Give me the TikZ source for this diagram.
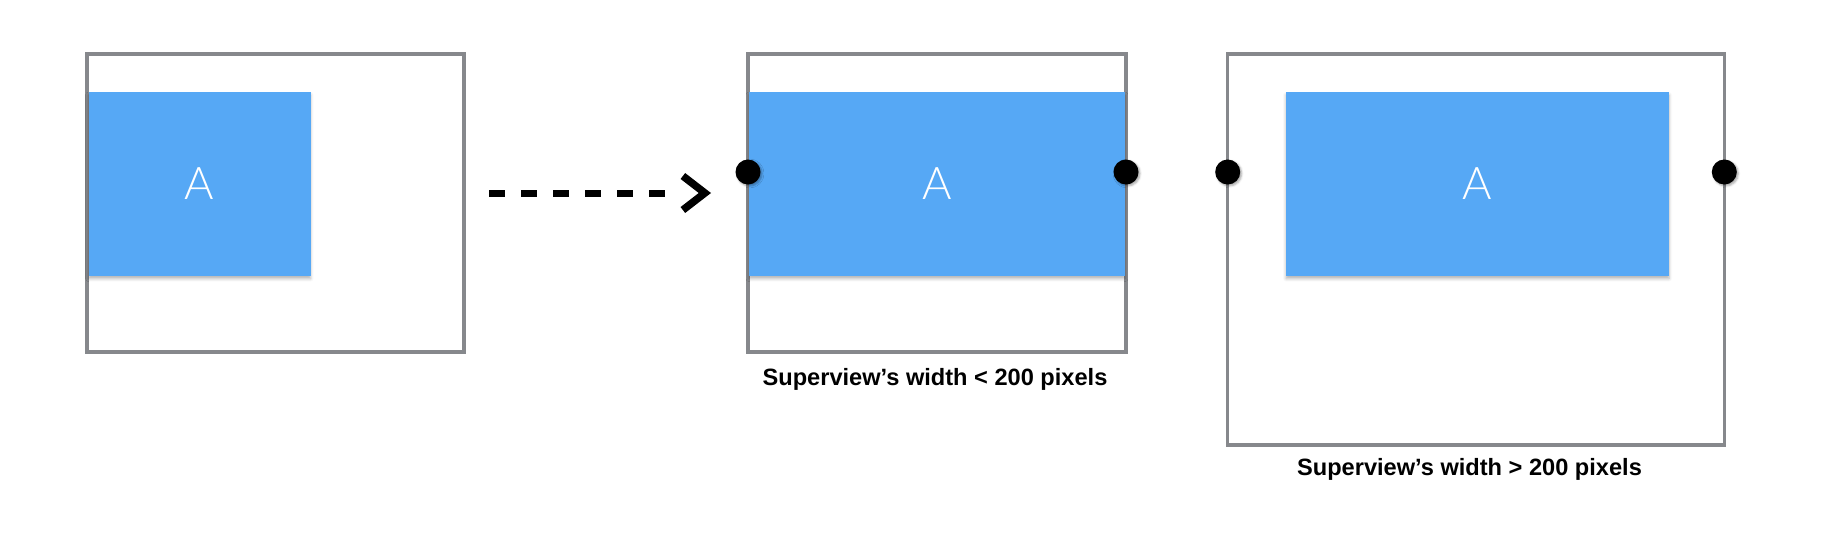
\documentclass[tikz,border=0pt]{standalone}
\usepackage{fontspec}
\setmainfont{Liberation Sans}
\newfontfamily\thinfont{Lato Light}
\usetikzlibrary{arrows.meta,shadows.blur}
\definecolor{viewblue}{HTML}{56A8F5}
\definecolor{framegray}{HTML}{86888C}
\tikzset{
    superview/.style={draw=framegray, line width=3.4pt},
    subview/.style={fill=viewblue, inner sep=0pt, minimum height=183.6pt, text=white,
        font=\thinfont\fontsize{45}{45}\selectfont,
        blur shadow={shadow xshift=0pt, shadow yshift=-3pt, shadow blur radius=3pt, shadow opacity=30}},
    pin/.style={circle, fill=black, inner sep=0pt, minimum size=25pt,
        blur shadow={shadow xshift=1.5pt, shadow yshift=-1.5pt, shadow blur radius=2pt, shadow opacity=35}},
    caption/.style={anchor=base, inner sep=0pt, font=\bfseries\fontsize{23.6}{28}\selectfont},
}
\NewDocumentCommand{\subview}{mmm}{%
\node[subview, minimum width=#3pt] (#1) at (#2,183.8) {A};%
}

\begin{document}
\begin{tikzpicture}[x=1pt,y=-1pt]
        \useasboundingbox (0,0) rectangle (1828,536);

        % Superviews
        \draw[superview] (86.9,53.9) rectangle (464,351.8);
        \draw[superview] (748,53.9) rectangle (1126,351.8);
        \draw[superview] (1227.7,53.9) rectangle (1724.3,445);

        % Views A
        \subview{aLeft}{199.6}{222}
        \subview{aMid}{937}{376}
        \subview{aRight}{1477.5}{383}

        % Pins
        \node[pin] (pinMidL) at (748,172) {};
        \node[pin] (pinMidR) at (1126,172) {};
        \node[pin] (pinRightL) at (1227.7,172) {};
        \node[pin] (pinRightR) at (1724.3,172) {};

        % Arrow
        \coordinate (arrFrom) at (489,193);
        \coordinate (arrTo) at (711,193);
        \draw[line width=7pt,
            dash pattern=on 16pt off 16pt on 16pt off 16pt on 16pt off 16pt on 16pt off 16pt on 16pt off 16pt on 16pt off 100pt,
            -{Straight Barb[length=22pt, width=34pt, line width=7.5pt]}] (arrFrom) -- (arrTo);

        % Captions
        \node[caption] (capLess) at (935,385) {Superview’s width < 200 pixels};
        \node[caption] (capMore) at (1469.5,475) {Superview’s width > 200 pixels};
    \end{tikzpicture}
\end{document}
